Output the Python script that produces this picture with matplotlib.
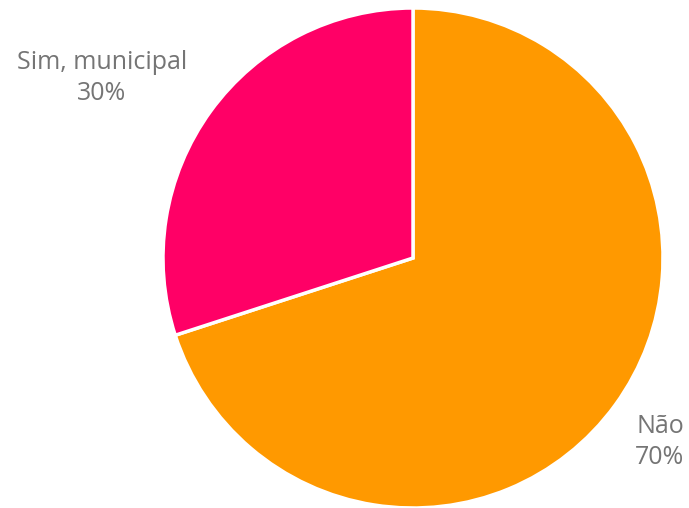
import matplotlib.pyplot as plt

labels = ['Não', 'Sim, municipal']
values = [70, 30]
colors = ['#FF9900', '#FF0066']

fig = plt.figure(figsize=(6.89, 5.08), dpi=100)
ax = fig.add_axes([163 / 689, 0, 500 / 689, 500 / 508])

ax.pie(values, colors=colors, startangle=90, counterclock=False,
       wedgeprops=dict(edgecolor='white', linewidth=2.5))
ax.set_xlim(-1, 1)
ax.set_ylim(-1, 1)
ax.set_aspect('equal')

# label positions in data units (outside the pie)
label_pos = [(0.988, -0.736), (-1.244, 0.72)]
for lab, val, (x, y) in zip(labels, values, label_pos):
    ax.text(x, y, f'{lab}\n{val}%', ha='center', va='center',
            fontsize=18, color='#757575', family='Open Sans',
            linespacing=1.3)

fig.savefig('out.png', dpi=100)
